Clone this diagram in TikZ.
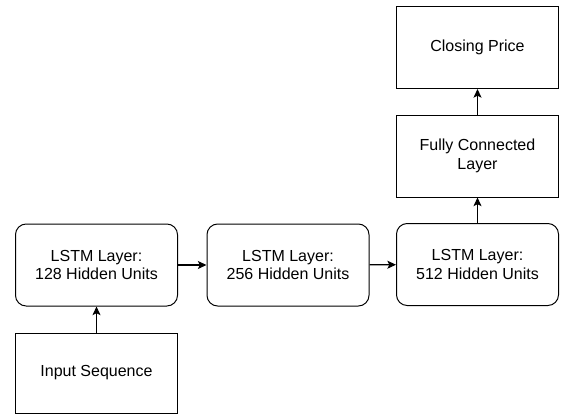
\documentclass[tikz,border=0pt]{standalone}
\usepackage{fontspec}
\setmainfont{Liberation Sans}
\usetikzlibrary{arrows.meta}

\begin{document}
\begin{tikzpicture}[
		x=0.75pt, y=-0.75pt,
		every node/.style={rectangle, draw, line width=0.75pt, minimum width=121.5pt, minimum height=61.5pt, align=center, font=\fontsize{12}{14}\selectfont, inner sep=0pt},
		layer/.style={rounded corners=8pt},
		link/.style={line width=0.9pt, -{Stealth[length=6.5pt, width=6pt, inset=1.5pt]}}
	]
  \useasboundingbox (0,0) rectangle (561,414);
  \node (input) [minimum height=60pt] at (96.5, 373) {Input Sequence};
  \node (lstm_1) [layer] at (96.5, 265) {LSTM Layer:\\128 Hidden Units};
  \node (lstm_2) [layer] at (288, 265) {LSTM Layer:\\256 Hidden Units};
  \node (lstm_3) [layer] at (477.5, 264.5) {LSTM Layer:\\512 Hidden Units};
  \node (fc) at (477.5, 156) {Fully Connected\\Layer};
  \node (price) at (477.5, 47.5) {Closing Price};
  \draw [link] (input) -- (lstm_1);
  \draw [link] (lstm_1) -- (lstm_2);
  \draw [link] (lstm_2) -- (lstm_3);
  \draw [link] (lstm_3) -- (fc);
  \draw [link] (fc) -- (price);
\end{tikzpicture}
\end{document}
